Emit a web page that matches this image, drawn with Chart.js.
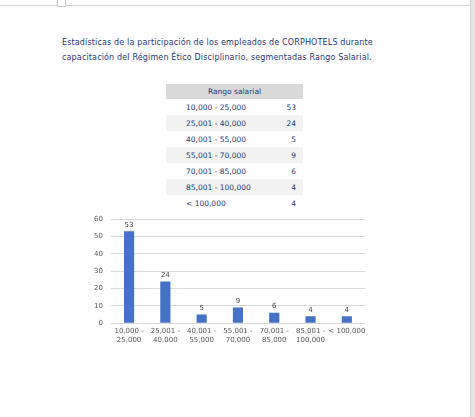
<!DOCTYPE html>
<html>
<head>
<meta charset="utf-8">
<script src="https://cdn.jsdelivr.net/npm/chart.js@4/dist/chart.umd.min.js"></script>
<style>
  html, body { margin: 0; padding: 0; background: #fff; width: 475px; height: 417px; overflow: hidden; }
  body { position: relative; font-family: "DejaVu Sans", sans-serif; }
  .topline { position: absolute; left: 0; top: 5px; width: 470px; height: 1px; background: #d4d4d4; }
  .mark { position: absolute; left: 57px; top: 0; width: 7px; height: 6px; border: 1px solid #c8c8c8; border-top: none; background: #fff; }
  .side { position: absolute; left: 470px; top: 0; width: 5px; height: 417px; background: #e6e6e6; border-left: 1px solid #d0d0d0; }
  .title { position: absolute; left: 62px; top: 35px; color: #1f3a78; font-size: 8px; line-height: 15px; letter-spacing: 0.15px; white-space: nowrap; }
  table { position: absolute; left: 166px; top: 84px; border-collapse: collapse; font-size: 7.5px; color: #1f3a78; }
  td { height: 16px; padding: 0; }
  th { height: 15px; background: #d9d9d9; font-weight: normal; padding: 0; text-align: center; }
  tbody tr:nth-child(even) td { background: #f2f2f2; }
  td.l { width: 90px; padding-left: 20px; }
  td.v { width: 20px; padding-right: 7px; text-align: right; }
  #wrap { position: absolute; left: 82px; top: 207px; width: 295px; height: 141px; }
</style>
</head>
<body>
<div class="topline"></div>
<div class="mark"></div>
<div class="side"></div>
<div class="title">Estadísticas de la participación de los empleados de CORPHOTELS durante<br>capacitación del Régimen Ético Disciplinario, segmentadas Rango Salarial.</div>
<table id="tbl"><thead><tr><th colspan="2">Rango salarial</th></tr></thead><tbody></tbody></table>
<div id="wrap"><canvas id="chart"></canvas></div>
<script>
var rangos = ["10,000 - 25,000", "25,001 - 40,000", "40,001 - 55,000", "55,001 - 70,000", "70,001 - 85,000", "85,001 - 100,000", "< 100,000"];
var empleados = [53, 24, 5, 9, 6, 4, 4];
var ejeLabels = [["10,000 -", "25,000"], ["25,001 -", "40,000"], ["40,001 -", "55,000"], ["55,001 -", "70,000"], ["70,001 -", "85,000"], ["85,001 -", "100,000"], "< 100,000"];

var tbody = document.querySelector("#tbl tbody");
for (var i = 0; i < rangos.length; i++) {
    var tr = document.createElement("tr");
    tr.innerHTML = '<td class="l"></td><td class="v"></td>';
    tr.children[0].textContent = rangos[i];
    tr.children[1].textContent = empleados[i];
    tbody.appendChild(tr);
}

// valores encima de cada barra
var etiquetas = {
    id: "etiquetas",
    afterDatasetsDraw: function(chart) {
        var ctx = chart.ctx;
        var meta = chart.getDatasetMeta(0);
        ctx.save();
        ctx.font = "7px 'DejaVu Sans'";
        ctx.fillStyle = "#404040";
        ctx.textAlign = "center";
        ctx.textBaseline = "bottom";
        meta.data.forEach(function(bar, i) {
            ctx.fillText(chart.data.datasets[0].data[i], bar.x, bar.y - 3);
        });
        ctx.restore();
    }
};

new Chart(document.getElementById("chart"), {
    type: "bar",
    data: {
        labels: ejeLabels,
        datasets: [{
            data: empleados,
            backgroundColor: "#4472c4",
            categoryPercentage: 1,
            barPercentage: 0.28
        }]
    },
    options: {
        responsive: true,
        maintainAspectRatio: false,
        animation: false,
        layout: { padding: { top: 6, right: 12, left: 4, bottom: 0 } },
        plugins: { legend: { display: false }, tooltip: { enabled: false } },
        scales: {
            x: {
                grid: { display: false, drawTicks: false, tickLength: 0 },
                border: { display: false },
                ticks: { color: "#595959", font: { size: 7, family: "DejaVu Sans" }, maxRotation: 0, autoSkip: false, padding: 4 }
            },
            y: {
                min: 0, max: 60,
                ticks: { stepSize: 10, color: "#595959", font: { size: 7, family: "DejaVu Sans" }, padding: 8 },
                grid: { color: "#d9d9d9", drawTicks: false },
                border: { display: false }
            }
        }
    },
    plugins: [etiquetas]
});
</script>
</body>
</html>
